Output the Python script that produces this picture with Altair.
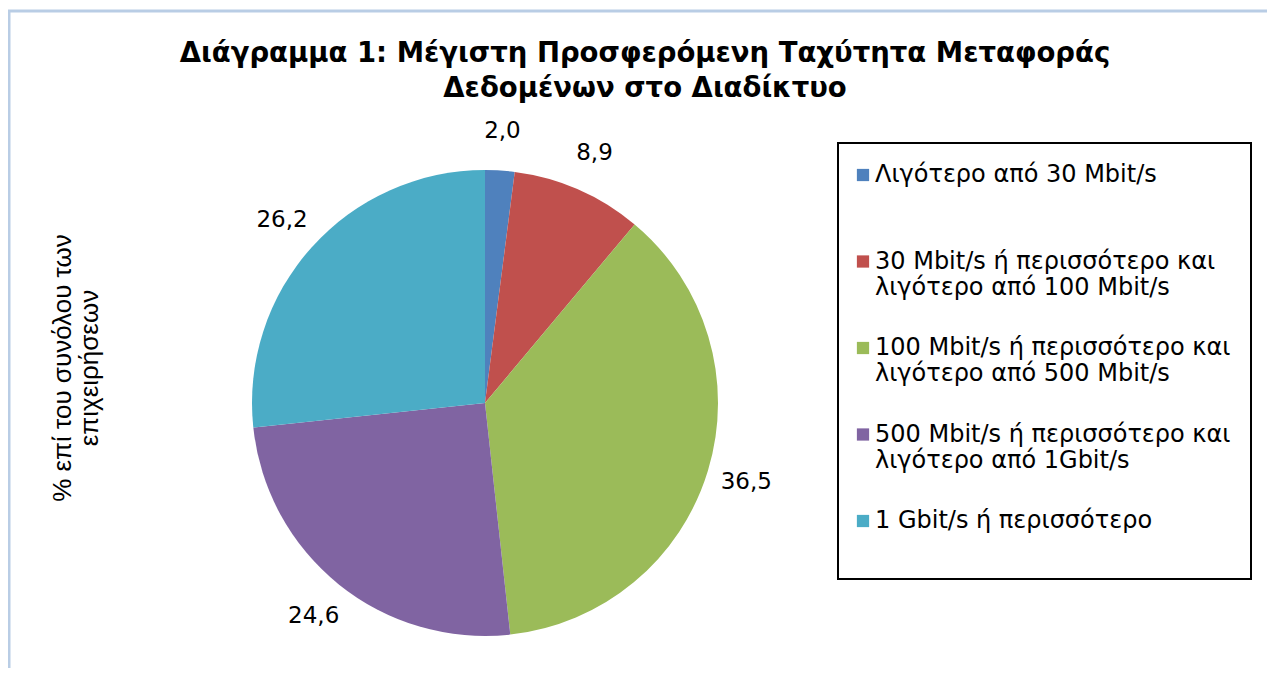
import altair as alt
import pandas as pd

categories = [
    "Λιγότερο από 30 Mbit/s",
    "30 Mbit/s ή περισσότερο και\nλιγότερο από 100 Mbit/s",
    "100 Mbit/s ή περισσότερο και\nλιγότερο από 500 Mbit/s",
    "500 Mbit/s ή περισσότερο και\nλιγότερο από 1Gbit/s",
    "1 Gbit/s ή περισσότερο",
]
values = [2.0, 8.9, 36.5, 24.6, 26.2]
colors = ["#4F81BD", "#C0504D", "#9BBB59", "#8064A2", "#4BACC6"]

title_lines = ["Διάγραμμα 1: Μέγιστη Προσφερόμενη Ταχύτητα Μεταφοράς", "Δεδομένων στο Διαδίκτυο"]
ytitle_lines = ["% επί του συνόλου των", "επιχειρήσεων"]

df = pd.DataFrame({"cat": categories, "value": values, "idx": list(range(len(values)))})

CX, CY, R = 477, 295, 233

base = alt.Chart(df).encode(
    theta=alt.Theta("value:Q", stack=True),
    order=alt.Order("idx:Q"),
    x=alt.value(CX),
    y=alt.value(CY),
)

pie = base.mark_arc(outerRadius=R).encode(
    color=alt.Color(
        "cat:N",
        scale=alt.Scale(domain=categories, range=colors),
        sort=categories,
        legend=alt.Legend(
            title=None,
            orient="none",
            legendX=830,
            legendY=35,
            padding=20,
            strokeColor="black",
            symbolType="square",
            symbolSize=150,
            symbolStrokeWidth=0,
            symbolOffset=-7,
            labelFont="DejaVu Sans",
            labelFontSize=24,
            labelColor="black",
            labelLimit=600,
            labelOffset=0,
            labelBaseline="middle",
            rowPadding=36.5,
            labelExpr="length(split(datum.label, '\\n')) < 2 ? [datum.label, ''] : split(datum.label, '\\n')",
        ),
    )
)

labels = base.transform_calculate(
    lab="replace(format(datum.value, '.1f'), '.', ',')"
).mark_text(radius=273, font="DejaVu Sans", fontSize=23, color="black").encode(
    text="lab:N"
)

one = alt.Chart(df).transform_filter("datum.idx == 0")

title = one.mark_text(
    font="DejaVu Sans", fontSize=27.5, fontWeight="bold", color="black",
    align="center", baseline="middle", lineHeight=35,
).encode(x=alt.value(637), y=alt.value(-54), text=alt.value(title_lines))

ytitle = one.mark_text(
    angle=270, font="Liberation Sans", fontSize=26, color="black",
    align="center", baseline="middle", lineHeight=27,
).encode(x=alt.value(55), y=alt.value(260), text=alt.value(ytitle_lines))

border_top = one.mark_rule(color="#B9CDE5", strokeWidth=3).encode(
    x=alt.value(0), x2=alt.value(1259), y=alt.value(-97)
)
border_left = one.mark_rule(color="#B9CDE5", strokeWidth=3).encode(
    x=alt.value(1), y=alt.value(-98), y2=alt.value(560)
)

chart = alt.layer(border_top, border_left, pie, labels, title, ytitle).properties(
    width=1259,
    height=560,
    padding={"left": 0, "top": 100, "right": 0, "bottom": 0},
    autosize=alt.AutoSizeParams(type="none"),
).configure_view(stroke=None).configure_legend(strokeWidth=2)

chart.save("out.html", embed_options={"renderer": "svg", "actions": False})
